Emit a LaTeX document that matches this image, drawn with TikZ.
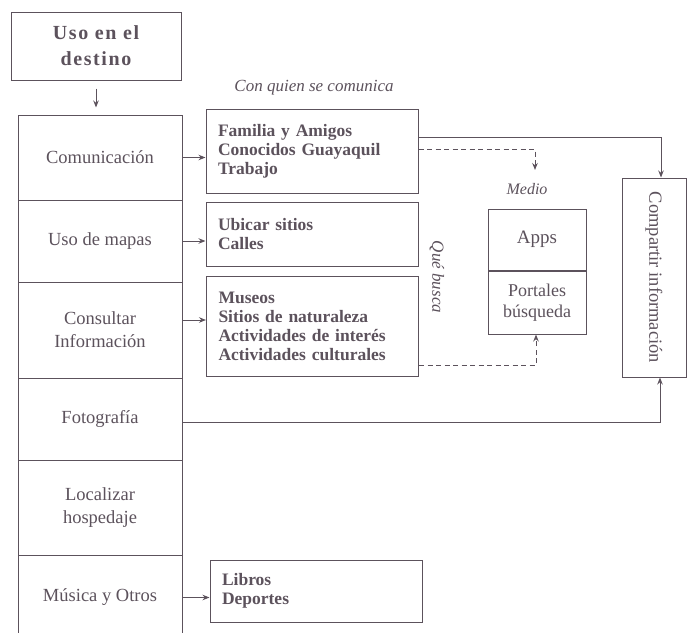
\documentclass[tikz,border=0pt]{standalone}
\usepackage{fontspec}
\setmainfont{Liberation Serif}
\usetikzlibrary{arrows.meta}
\definecolor{ink}{RGB}{92,82,92}
\tikzset{
  box/.style={draw=ink, line width=1pt, text=ink, inner sep=0pt, align=center},
  leftrow/.style={box, minimum width=164pt, font=\fontsize{18.5}{23}\selectfont},
  listbox/.style={box, minimum width=212pt, text width=188pt, align=left, font=\bfseries\fontsize{17.5}{19}\selectfont},
  lbl/.style={text=ink, font=\itshape\fontsize{17}{19}\selectfont, inner sep=0pt},
  arr/.style={draw=ink, line width=1pt, -{Stealth[length=7pt,width=5.5pt]}},
  darr/.style={arr, dashed, dash pattern=on 5pt off 3.5pt}
}
\begin{document}
\begin{tikzpicture}[x=1pt,y=-1pt]
\useasboundingbox (0,0) rectangle (688,632);
\begin{scope}
\clip (0,0) rectangle (688,632);
% top box
\node[box, minimum width=170pt, minimum height=68pt, font=\bfseries\fontsize{20}{26}\selectfont\addfontfeatures{LetterSpace=8}] (top) at (96,46) {Uso en el\\destino};
% left column
\node[leftrow, minimum height=85pt] (r1) at (100,157.5) {Comunicación};
\node[leftrow, minimum height=82pt] (r2) at (100,241) {Uso de mapas};
\node[leftrow, minimum height=96pt] (r3) at (100,330) {Consultar\\Información};
\node[leftrow, minimum height=82pt] (r4) at (100,419) {Fotografía};
\node[leftrow, minimum height=95pt] (r5) at (100,507.5) {Localizar\\hospedaje};
\node[leftrow, minimum height=85pt] (r6) at (100,597.5) {Música y Otros};
\end{scope}
% right list boxes
\node[listbox, minimum height=84pt] (b1) at (312,151) {Familia y Amigos\\Conocidos Guayaquil\\Trabajo};
\node[listbox, minimum height=64pt] (b2) at (312,234) {Ubicar sitios\\Calles};
\node[listbox, minimum height=100pt] (b3) at (312.5,326) {Museos\\Sitios de naturaleza\\Actividades de interés\\Actividades culturales};
\node[listbox, minimum height=62pt] (b4) at (316,591) {Libros\\Deportes};
% labels
\node[lbl] (conquien) at (314,88) {Con quien se comunica};
\node[lbl, rotate=-90] (quebusca) at (437,277) {Qué busca};
\node[lbl, font=\itshape\fontsize{16}{18}\selectfont] (medio) at (527,189) {Medio};
% medio boxes
\node[box, minimum width=98pt, minimum height=61pt, font=\fontsize{19}{21}\selectfont] (apps) at (537,239.5) {Apps};
\node[box, minimum width=98pt, minimum height=63pt, font=\fontsize{18}{21}\selectfont, anchor=north] (portales) at (apps.south) {Portales\\búsqueda};
% compartir
\node[box, minimum width=64pt, minimum height=199pt] (comp) at (654,277.5) {};
\node[text=ink, rotate=-90, font=\fontsize{18.5}{20}\selectfont, inner sep=0pt] (comptext) at (comp.center) {Compartir información};
\coordinate (mtop) at (535,170);
% connectors
\draw[arr, shorten <=8pt, shorten >=7pt] (top.south) -- (top.south |- r1.north);
\draw[arr] (r1.east) -- (r1.east -| b1.west);
\draw[arr] (r2.east) -- (r2.east -| b2.west);
\draw[arr] ([yshift=10pt]r3.east) -- ([yshift=10pt]r3.east -| b3.west);
\draw[arr] (r6.east) -- (r6.east -| b4.west);
\draw[arr] ([yshift=14pt]b1.east) -| ([xshift=7pt]comp.north);
\draw[darr] ([yshift=2pt]b1.east) -| (mtop);
\draw[darr] ([yshift=-39pt]b3.east) -| ([xshift=-1pt]portales.south);
\draw[arr] ([yshift=-3pt]r4.east) -| ([xshift=6pt]comp.south);
\end{tikzpicture}
\end{document}
